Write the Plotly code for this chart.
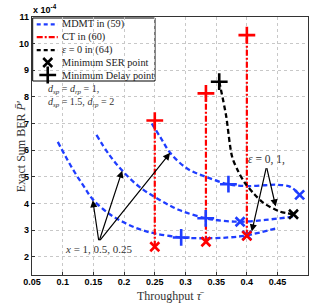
import plotly.graph_objects as go

# ---------------- data ----------------
mdmt_x1 = [0.092, 0.105, 0.12, 0.135, 0.149, 0.175, 0.2, 0.225, 0.25, 0.293, 0.333, 0.37, 0.4, 0.449]
mdmt_y1 = [6.31, 5.75, 5.15, 4.62, 4.15, 3.62, 3.28, 3.03, 2.87, 2.72, 2.69, 2.72, 2.80, 3.07]

mdmt_x2 = [0.155, 0.175, 0.197, 0.225, 0.258, 0.29, 0.333, 0.36, 0.389, 0.43, 0.476]
mdmt_y2 = [6.57, 5.85, 5.23, 4.62, 4.13, 3.75, 3.44, 3.35, 3.31, 3.38, 3.50]

mdmt_x3 = [0.245, 0.26, 0.275, 0.302, 0.333, 0.37, 0.4, 0.43, 0.449, 0.471, 0.486]
mdmt_y3 = [7.0, 6.45, 5.9, 5.32, 5.0, 4.72, 4.65, 4.68, 4.70, 4.62, 4.32]

mdmt_delay_x = [0.293, 0.333, 0.37]
mdmt_delay_y = [2.72, 3.44, 4.72]
mdmt_ser_x = [0.4, 0.389, 0.486]
mdmt_ser_y = [2.80, 3.31, 4.32]

ct_x = [0.25, 1 / 3, 0.4]
ct_ser_y = [2.37, 2.56, 2.78]
ct_delay_y = [7.11, 8.13, 10.32]

eps_x = [0.355, 0.366, 0.376, 0.386, 0.397, 0.412, 0.427, 0.454, 0.476]
eps_y = [8.57, 7.32, 5.75, 5.2, 4.76, 4.35, 4.02, 3.69, 3.59]

x_ticks = [0.05, 0.1, 0.15, 0.2, 0.25, 0.3, 0.35, 0.4, 0.45]
x_tick_text = ["0.05", "0.1", "0.15", "0.2", "0.25", "0.3", "0.35", "0.4", "0.45"]
y_ticks = [2, 3, 4, 5, 6, 7, 8, 9, 10, 11]

BLUE = "#1f3dff"
RED = "#ff0000"
SERIF = "Liberation Serif"
SANS = "Liberation Sans"

fig = go.Figure()

# MDMT curves
for xs, ys in [(mdmt_x1, mdmt_y1), (mdmt_x2, mdmt_y2), (mdmt_x3, mdmt_y3)]:
    fig.add_trace(go.Scatter(x=xs, y=ys, mode="lines",
                             line=dict(color=BLUE, width=2.3, dash="5px,3px", shape="spline", smoothing=1.0),
                             showlegend=False, hoverinfo="skip"))

# CT vertical lines
for cx, y0, y1 in zip(ct_x, ct_ser_y, ct_delay_y):
    fig.add_trace(go.Scatter(x=[cx, cx], y=[y0, y1], mode="lines",
                             line=dict(color=RED, width=2.2, dash="6px,2px,2px,2px"),
                             showlegend=False, hoverinfo="skip"))

# epsilon = 0 curve
fig.add_trace(go.Scatter(x=eps_x, y=eps_y, mode="lines",
                         line=dict(color="black", width=2.3, dash="5px,3px", shape="spline", smoothing=0.8),
                         showlegend=False, hoverinfo="skip"))

# markers
def plus(xs, ys, color):
    fig.add_trace(go.Scatter(x=xs, y=ys, mode="markers",
                             marker=dict(symbol="cross-thin", size=12, line=dict(color=color, width=2.6)),
                             showlegend=False, hoverinfo="skip"))

def cross(xs, ys, color):
    fig.add_trace(go.Scatter(x=xs, y=ys, mode="markers",
                             marker=dict(symbol="x-thin", size=9, line=dict(color=color, width=2.6)),
                             showlegend=False, hoverinfo="skip"))

plus(mdmt_delay_x, mdmt_delay_y, BLUE)
cross(mdmt_ser_x, mdmt_ser_y, BLUE)
plus(ct_x, ct_delay_y, RED)
cross(ct_x, ct_ser_y, RED)
plus([eps_x[0]], [eps_y[0]], "black")
cross([eps_x[-1]], [eps_y[-1]], "black")

# ---------------- legend (drawn on a pixel-space overlay axis) ----------------
L, R, T, B = 32.3, 307.7, 17.0, 275.0
leg_rows = [24.3, 37.2, 50.2, 62.5, 75.0]
leg_labels = ["MDMT in (59)", "CT in (60)", "<i>ε</i> = 0 in (64)", "Minimum SER point", "Minimum Delay point"]
leg_line_styles = [(BLUE, "4px,3px"), (RED, "6px,2px,2px,2px"), ("black", "4px,3px")]
for (col, dsh), ry in zip(leg_line_styles, leg_rows[:3]):
    fig.add_trace(go.Scatter(x=[37, 58], y=[ry, ry], mode="lines", xaxis="x2", yaxis="y2",
                             line=dict(color=col, width=2.2, dash=dsh), showlegend=False, hoverinfo="skip"))
fig.add_trace(go.Scatter(x=[48], y=[leg_rows[3]], mode="markers", xaxis="x2", yaxis="y2",
                         marker=dict(symbol="x-thin", size=9, line=dict(color="black", width=2.6)),
                         showlegend=False, hoverinfo="skip"))
fig.add_trace(go.Scatter(x=[48], y=[leg_rows[4]], mode="markers", xaxis="x2", yaxis="y2",
                         marker=dict(symbol="cross-thin", size=12, line=dict(color="black", width=2.6)),
                         showlegend=False, hoverinfo="skip"))

shapes = [dict(type="rect", xref="x2", yref="y2", x0=33.0, x1=155.0, y0=18.0, y1=81.0,
               line=dict(color="black", width=1), fillcolor="white", layer="below")]

annotations = []
for lbl, ry in zip(leg_labels, leg_rows):
    annotations.append(dict(x=60, y=ry, xref="x2", yref="y2", text=lbl, showarrow=False,
                            xanchor="left", yanchor="middle",
                            font=dict(family=SERIF, size=10.3, color="#222")))

annotations.append(dict(x=46, y=89, xref="x2", yref="y2",
                        text="<i>d</i><sub><i>sp</i></sub> = <i>d</i><sub><i>rp</i></sub> = 1,",
                        showarrow=False, xanchor="left", yanchor="middle",
                        font=dict(family=SERIF, size=10, color="#333")))
annotations.append(dict(x=46, y=102.5, xref="x2", yref="y2",
                        text="<i>d</i><sub><i>sp</i></sub> = 1.5, <i>d</i><sub><i>rp</i></sub> = 2",
                        showarrow=False, xanchor="left", yanchor="middle",
                        font=dict(family=SERIF, size=10, color="#333")))

# arrows: x = 1, 0.5, 0.25
x_tail = (0.159, 2.56)
for tip in [(0.149, 4.12), (0.197, 5.23), (0.275, 5.90)]:
    annotations.append(dict(x=tip[0], y=tip[1], ax=x_tail[0], ay=x_tail[1], xref="x", yref="y",
                            axref="x", ayref="y", text="", showarrow=True, arrowhead=2,
                            arrowsize=1.2, arrowwidth=1.2, arrowcolor="black"))
annotations.append(dict(x=0.159, y=2.29, xref="x", yref="y", text="<i>x</i> = 1, 0.5, 0.25",
                        showarrow=False, font=dict(family=SERIF, size=11, color="#333")))

# arrows: epsilon = 0, 1
e_tail = (0.432, 5.38)
for tip in [(0.408, 2.94), (0.447, 3.88)]:
    annotations.append(dict(x=tip[0], y=tip[1], ax=e_tail[0], ay=e_tail[1], xref="x", yref="y",
                            axref="x", ayref="y", text="", showarrow=True, arrowhead=2,
                            arrowsize=1.2, arrowwidth=1.2, arrowcolor="black"))
annotations.append(dict(x=0.432, y=5.64, xref="x", yref="y", text="<i>ε</i> = 0, 1,",
                        showarrow=False, font=dict(family=SERIF, size=11.5, color="#333")))

# axis titles and exponent
annotations.append(dict(x=-0.072, y=0.5, xref="paper", yref="paper", textangle=-90,
                        text="Exact Sum BER <i>P̄</i>′", showarrow=False,
                        font=dict(family=SERIF, size=12, color="#333")))
annotations.append(dict(x=0.5, y=-0.081, xref="paper", yref="paper", yanchor="middle",
                        text="Throughput <i>τ̄</i>", showarrow=False,
                        font=dict(family=SERIF, size=12, color="#333")))
annotations.append(dict(x=-0.005, y=1.0, xref="paper", yref="paper", xanchor="left", yanchor="bottom",
                        text="<b>x 10<sup>-4</sup></b>", showarrow=False,
                        font=dict(family=SANS, size=9, color="black")))

fig.update_layout(
    width=319, height=305,
    margin=dict(l=32, r=11, t=17, b=30),
    paper_bgcolor="white", plot_bgcolor="white",
    showlegend=False,
    shapes=shapes, annotations=annotations,
    xaxis=dict(range=[0.05, 0.4996], tickvals=x_ticks, ticktext=x_tick_text,
               showgrid=True, gridcolor="#c8c8c8", griddash="dot", gridwidth=1,
               showline=True, linecolor="#333", linewidth=1.3, mirror=True,
               ticks="inside", ticklen=3, tickcolor="#333", zeroline=False, automargin=False,
               ticklabelstandoff=-2,
               tickfont=dict(family=SANS, size=9, color="black", weight="bold")),
    yaxis=dict(range=[1.31, 11.0], tickvals=y_ticks,
               showgrid=True, gridcolor="#c8c8c8", griddash="dot", gridwidth=1,
               showline=True, linecolor="#333", linewidth=1.3, mirror=True,
               ticks="inside", ticklen=3, tickcolor="#333", zeroline=False, automargin=False,
               tickfont=dict(family=SANS, size=9, color="black", weight="bold")),
    xaxis2=dict(range=[L, R], overlaying="x", anchor="y2", visible=False, showgrid=False, zeroline=False),
    yaxis2=dict(range=[B, T], overlaying="y", anchor="x2", visible=False, showgrid=False, zeroline=False),
)

fig.write_html("out.html",
               config={"displayModeBar": False, "staticPlot": True},
               post_script="document.body.style.margin='0';document.body.style.overflow='hidden';")
